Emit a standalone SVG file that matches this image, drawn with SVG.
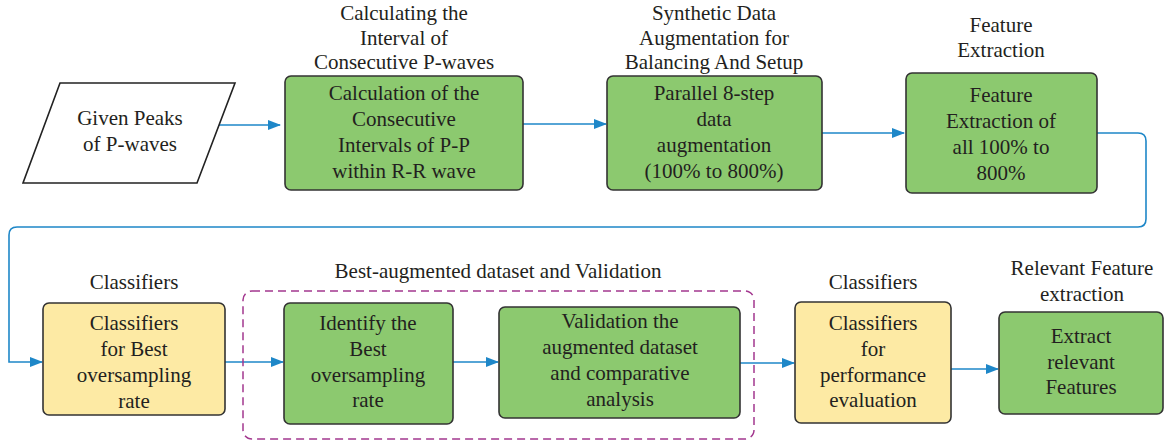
<svg xmlns="http://www.w3.org/2000/svg" width="1164" height="443" viewBox="0 0 1164 443">
<defs>
<marker id="ah" markerWidth="13" markerHeight="10" refX="12" refY="5" orient="auto" markerUnits="userSpaceOnUse">
<path d="M0,0 L13,5 L0,10 Z" fill="#1E87C8"/>
</marker>
<style>
text{font-family:"Liberation Serif","Times New Roman",serif;font-size:21px;fill:#231F20;text-anchor:middle}
.g{fill:#8CC96F;stroke:#333;stroke-width:1.6}
.y{fill:#FDEAA4;stroke:#333;stroke-width:1.6}
.c{fill:none;stroke:#1E87C8;stroke-width:1.6}
</style>
</defs>
<rect width="1164" height="443" fill="#fff"/>
<g id="connectors">
<path class="c" d="M219,125 H280" marker-end="url(#ah)"/>
<path class="c" d="M523,124 H606" marker-end="url(#ah)"/>
<path class="c" d="M822,133 H904" marker-end="url(#ah)"/>
<path class="c" d="M1097,133 H1138 Q1146,133 1146,141 V219 Q1146,227 1138,227 H17 Q9,227 9,235 V362 H42" marker-end="url(#ah)"/>
<path class="c" d="M225,362 H283" marker-end="url(#ah)"/>
<path class="c" d="M453,362 H498" marker-end="url(#ah)"/>
<path class="c" d="M740,363 H794" marker-end="url(#ah)"/>
<path class="c" d="M951,369 H998" marker-end="url(#ah)"/>
</g>
<g id="group-best">
<rect x="243" y="291" width="511" height="148" rx="9" fill="none" stroke="#A3378F" stroke-width="1.5" stroke-dasharray="8,5"/>
<text x="498" y="278">Best-augmented dataset and Validation</text>
</g>
<g id="n-input">
<polygon points="60,83 235,83 197,183 23,183" fill="#fff" stroke="#222" stroke-width="1.6"/>
<text x="130" y="125">Given Peaks</text>
<text x="130" y="151">of P-waves</text>
</g>
<g id="n-interval">
<text x="404" y="20">Calculating the</text>
<text x="404" y="45">Interval of</text>
<text x="404" y="69">Consecutive P-waves</text>
<rect class="g" x="285" y="76" width="238" height="114" rx="6"/>
<text x="404" y="100">Calculation of the</text>
<text x="404" y="126">Consecutive</text>
<text x="404" y="152">Intervals of P-P</text>
<text x="404" y="178">within R-R wave</text>
</g>
<g id="n-augment">
<text x="714" y="20">Synthetic Data</text>
<text x="714" y="45">Augmentation for</text>
<text x="714" y="69">Balancing And Setup</text>
<rect class="g" x="607" y="76" width="215" height="114" rx="6"/>
<text x="714" y="100">Parallel 8-step</text>
<text x="714" y="126">data</text>
<text x="714" y="152">augmentation</text>
<text x="714" y="178">(100% to 800%)</text>
</g>
<g id="n-feature">
<text x="1001" y="32">Feature</text>
<text x="1001" y="57">Extraction</text>
<rect class="g" x="906" y="73" width="191" height="120" rx="6"/>
<text x="1001" y="102">Feature</text>
<text x="1001" y="128">Extraction of</text>
<text x="1001" y="154">all 100% to</text>
<text x="1001" y="180">800%</text>
</g>
<g id="n-cls1">
<text x="134" y="289">Classifiers</text>
<rect class="y" x="43" y="303" width="182" height="112" rx="6"/>
<text x="134" y="330">Classifiers</text>
<text x="134" y="356">for Best</text>
<text x="134" y="382">oversampling</text>
<text x="134" y="408">rate</text>
</g>
<g id="n-identify">
<rect class="g" x="284" y="303" width="169" height="121" rx="6"/>
<text x="368" y="330">Identify the</text>
<text x="368" y="356">Best</text>
<text x="368" y="382">oversampling</text>
<text x="368" y="407">rate</text>
</g>
<g id="n-validate">
<rect class="g" x="499" y="307" width="241" height="111" rx="6"/>
<text x="620" y="328">Validation the</text>
<text x="620" y="354">augmented dataset</text>
<text x="620" y="380">and comparative</text>
<text x="620" y="406">analysis</text>
</g>
<g id="n-cls2">
<text x="873" y="289">Classifiers</text>
<rect class="y" x="795" y="302" width="156" height="121" rx="6"/>
<text x="873" y="330">Classifiers</text>
<text x="873" y="356">for</text>
<text x="873" y="382">performance</text>
<text x="873" y="407">evaluation</text>
</g>
<g id="n-relevant">
<text x="1082" y="275">Relevant Feature</text>
<text x="1082" y="301">extraction</text>
<rect class="g" x="999" y="312" width="164" height="102" rx="6"/>
<text x="1081" y="343">Extract</text>
<text x="1081" y="369">relevant</text>
<text x="1081" y="394">Features</text>
</g>
</svg>
